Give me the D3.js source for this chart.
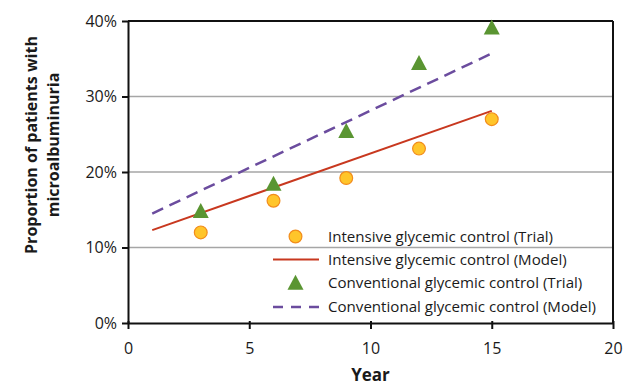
<!DOCTYPE html>
<html>
<head>
<meta charset="utf-8">
<script src="https://cdn.jsdelivr.net/npm/d3@7"></script>
<style>
  body { margin: 0; background: #fff; }
  svg { display: block; }
  text { font-family: "Open Sans", "Noto Sans", sans-serif; fill: #1a1a1a; }
</style>
</head>
<body>
<svg id="chart" width="629" height="386"></svg>
<script>
// ---- data ----
const trialYears = [3, 6, 9, 12, 15];
const intensiveTrial = [12.0, 16.2, 19.2, 23.1, 27.0];
const conventionalTrial = [14.8, 18.4, 25.4, 34.4, 39.1];
const modelYears = [1, 15];
const intensiveModel = [12.3, 28.1];
const conventionalModel = [14.5, 35.7];
const xTicks = [0, 5, 10, 15, 20];
const yTicks = [0, 10, 20, 30, 40];
const legendLabels = [
  "Intensive glycemic control (Trial)",
  "Intensive glycemic control (Model)",
  "Conventional glycemic control (Trial)",
  "Conventional glycemic control (Model)"
];

const W = 629, H = 386;
const margin = { top: 21, right: 16, bottom: 63, left: 128 };
const svg = d3.select("#chart");
const x = d3.scaleLinear().domain([0, 20]).range([margin.left, W - margin.right]);
const y = d3.scaleLinear().domain([0, 40]).range([H - margin.bottom, margin.top]);

const colRed = "#c8381f", colPurple = "#6b4c9e", colGreen = "#5a9532";
const colCircle = "#ffc52a", colCircleStroke = "#f28c1c";

// gridlines
svg.append("g").selectAll("line").data(yTicks.filter(d => d > 0 && d < 40)).join("line")
  .attr("x1", x(0)).attr("x2", x(20))
  .attr("y1", d => y(d)).attr("y2", d => y(d))
  .attr("stroke", "#a6a6a6").attr("stroke-width", 1.5);

// frame top & right
svg.append("line").attr("x1", x(0)).attr("x2", x(20)).attr("y1", y(40)).attr("y2", y(40))
  .attr("stroke", "#111").attr("stroke-width", 2);
svg.append("line").attr("x1", x(20)).attr("x2", x(20)).attr("y1", y(40)).attr("y2", y(0))
  .attr("stroke", "#111").attr("stroke-width", 2);

// axes
const xAxis = svg.append("g").attr("transform", `translate(0,${y(0)})`)
  .call(d3.axisBottom(x).tickValues(xTicks).tickSize(6).tickPadding(14).tickFormat(d3.format("d")));
const yAxis = svg.append("g").attr("transform", `translate(${x(0)},0)`)
  .call(d3.axisLeft(y).tickValues(yTicks).tickSize(6).tickPadding(5).tickFormat(d => d + "%"));
[xAxis, yAxis].forEach(g => {
  g.select(".domain").attr("stroke", "#111").attr("stroke-width", 2);
  g.selectAll(".tick line").attr("stroke", "#111").attr("stroke-width", 2);
  g.selectAll(".tick text").attr("font-size", 16).attr("fill", "#1a1a1a")
    .style("font-family", '"Open Sans", sans-serif');
});
xAxis.selectAll(".tick line").attr("y1", -2);
yAxis.select(".domain").attr("d", `M0.5,${y(40)}V${y(0)}`);
xAxis.select(".domain").attr("d", `M${x(0)},0.5H${x(20)}`);

// model lines
const line = d3.line().x(d => x(d[0])).y(d => y(d[1]));
svg.append("path").datum(modelYears.map((v, i) => [v, intensiveModel[i]]))
  .attr("d", line).attr("fill", "none").attr("stroke", colRed).attr("stroke-width", 2);
svg.append("path").datum(modelYears.map((v, i) => [v, conventionalModel[i]]))
  .attr("d", line).attr("fill", "none").attr("stroke", colPurple).attr("stroke-width", 2.5)
  .attr("stroke-dasharray", "12,7");

// trial points: triangle ~16 wide, 15 tall
const triType = {
  draw(ctx, size) {
    const w = 8, h = 15;
    ctx.moveTo(0, -h * 0.55);
    ctx.lineTo(w, h * 0.45);
    ctx.lineTo(-w, h * 0.45);
    ctx.closePath();
  }
};
const tri = d3.symbol().type(triType);
svg.append("g").selectAll("path").data(trialYears.map((v, i) => [v, conventionalTrial[i]])).join("path")
  .attr("d", tri).attr("transform", d => `translate(${x(d[0])},${y(d[1])})`)
  .attr("fill", colGreen);
svg.append("g").selectAll("circle").data(trialYears.map((v, i) => [v, intensiveTrial[i]])).join("circle")
  .attr("cx", d => x(d[0])).attr("cy", d => y(d[1])).attr("r", 6.4)
  .attr("fill", colCircle).attr("stroke", colCircleStroke).attr("stroke-width", 1.2);

// legend
const lg = svg.append("g");
const rowY = [236.5, 259.5, 283, 307];
const symX = 295.5, textX = 328;
lg.append("circle").attr("cx", symX).attr("cy", rowY[0]).attr("r", 6.4)
  .attr("fill", colCircle).attr("stroke", colCircleStroke).attr("stroke-width", 1.2);
lg.append("line").attr("x1", 273).attr("x2", 319).attr("y1", rowY[1]).attr("y2", rowY[1])
  .attr("stroke", colRed).attr("stroke-width", 2);
lg.append("path").attr("d", tri).attr("transform", `translate(${symX},${rowY[2]})`).attr("fill", colGreen);
lg.append("line").attr("x1", 273).attr("x2", 319).attr("y1", rowY[3]).attr("y2", rowY[3])
  .attr("stroke", colPurple).attr("stroke-width", 2.5).attr("stroke-dasharray", "10,8");
lg.selectAll("text").data(legendLabels).join("text")
  .attr("x", textX).attr("y", (d, i) => rowY[i]).attr("dy", "0.35em")
  .attr("font-size", 15.1).text(d => d);

// axis titles
svg.append("text").attr("x", x(10)).attr("y", 381).attr("text-anchor", "middle")
  .attr("font-size", 17).attr("font-weight", "bold").text("Year");
const yt = svg.append("text").attr("transform", "translate(0,145) rotate(-90)")
  .attr("text-anchor", "middle").attr("font-size", 16).attr("font-weight", "bold");
yt.append("tspan").attr("x", 0).attr("y", 37).text("Proportion of patients with");
yt.append("tspan").attr("x", 0).attr("y", 59).text("microalbuminuria");
</script>
</body>
</html>
